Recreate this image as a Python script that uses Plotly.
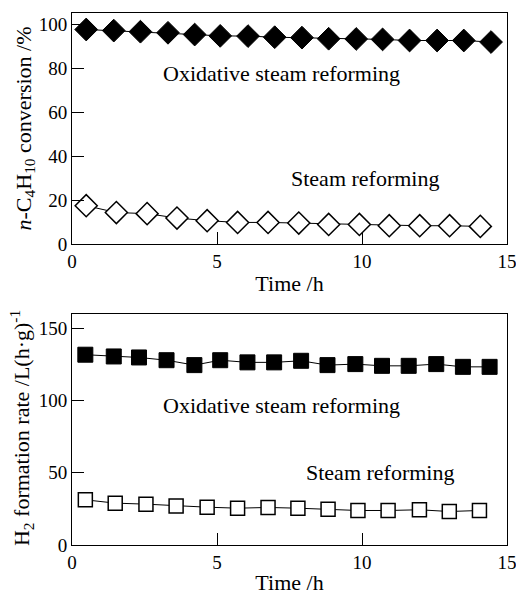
import plotly.graph_objects as go
from plotly.subplots import make_subplots

# Top panel: n-C4H10 conversion (%)
time_osr_conv = [0.49, 1.44, 2.36, 3.31, 4.23, 5.11, 6.07, 6.99, 7.93, 8.85, 9.80, 10.71, 11.64, 12.59, 13.51, 14.45]
conv_osr = [97.5, 97.0, 96.5, 96.0, 95.2, 94.6, 94.5, 94.0, 93.8, 93.3, 93.2, 93.0, 92.5, 92.5, 92.5, 91.8]
time_sr_conv = [0.49, 1.53, 2.59, 3.62, 4.66, 5.71, 6.76, 7.82, 8.85, 9.91, 10.94, 11.99, 13.02, 14.08]
conv_sr = [17.4, 14.3, 13.8, 11.8, 10.6, 9.8, 9.8, 9.5, 8.9, 8.9, 8.3, 8.3, 8.3, 8.0]

# Bottom panel: H2 formation rate (L/(h g))
time_osr_h2 = [0.46, 1.44, 2.31, 3.26, 4.22, 5.11, 6.05, 6.97, 7.90, 8.81, 9.77, 10.69, 11.61, 12.56, 13.48, 14.40]
h2_osr = [131.8, 130.6, 129.9, 128.0, 124.6, 128.0, 126.5, 126.5, 127.6, 124.6, 125.3, 124.1, 124.1, 125.3, 123.4, 123.4]
time_sr_h2 = [0.46, 1.49, 2.55, 3.59, 4.66, 5.71, 6.76, 7.79, 8.83, 9.86, 10.90, 11.98, 13.01, 14.05]
h2_sr = [31.3, 29.0, 28.3, 27.1, 26.2, 25.5, 26.0, 25.5, 24.8, 23.9, 23.9, 24.4, 23.2, 23.9]

x_ticks = [0, 5, 10, 15]
y_ticks_top = [0, 20, 40, 60, 80, 100]
y_ticks_bottom = [0, 50, 100, 150]

FONT = "Liberation Serif"

fig = make_subplots(rows=2, cols=1, vertical_spacing=0.1316)

line = dict(color="black", width=1)

fig.add_trace(go.Scatter(x=time_osr_conv, y=conv_osr, mode="lines+markers", line=line,
                         marker=dict(symbol="diamond", size=17.5, color="black",
                                     line=dict(color="black", width=1))), row=1, col=1)
fig.add_trace(go.Scatter(x=time_sr_conv, y=conv_sr, mode="lines+markers", line=line,
                         marker=dict(symbol="diamond", size=17, color="white",
                                     line=dict(color="black", width=1.5))), row=1, col=1)
fig.add_trace(go.Scatter(x=time_osr_h2, y=h2_osr, mode="lines+markers", line=line,
                         marker=dict(symbol="square", size=15, color="black",
                                     line=dict(color="black", width=1))), row=2, col=1)
fig.add_trace(go.Scatter(x=time_sr_h2, y=h2_sr, mode="lines+markers", line=line,
                         marker=dict(symbol="square", size=14, color="white",
                                     line=dict(color="black", width=1.5))), row=2, col=1)

axis_common = dict(showline=True, linecolor="black", linewidth=1, mirror=True,
                   ticks="inside", ticklen=12, tickcolor="black", tickwidth=1,
                   showgrid=False, zeroline=False, automargin=False,
                   tickfont=dict(family=FONT, size=19, color="black"))

fig.update_xaxes(range=[0, 15], tickvals=x_ticks, ticklabeloverflow="allow", **axis_common)
fig.update_yaxes(range=[0, 105], tickvals=y_ticks_top, row=1, col=1, **axis_common)
fig.update_yaxes(range=[0, 160], tickvals=y_ticks_bottom, row=2, col=1, **axis_common)

title_font = dict(family=FONT, size=22, color="black")
fig.update_xaxes(title=dict(text="Time /h", font=title_font, standoff=4))

annotations = [
    dict(text="Oxidative steam reforming", x=7.22, y=77.7, xref="x", yref="y"),
    dict(text="Steam reforming", x=10.1, y=30, xref="x", yref="y"),
    dict(text="Oxidative steam reforming", x=7.24, y=96.3, xref="x2", yref="y2"),
    dict(text="Steam reforming", x=10.63, y=49.9, xref="x2", yref="y2"),
]
for a in annotations:
    fig.add_annotation(showarrow=False, font=title_font, **a)

fig.add_annotation(text="<i>n</i>-C<sub>4</sub>H<sub>10</sub> conversion /%", xref="paper", yref="paper",
                   x=-0.108, y=0.783, textangle=-90, showarrow=False, font=title_font,
                   xanchor="center", yanchor="middle")
fig.add_annotation(text="H<sub>2</sub> formation rate /L(h·g)<sup>-1</sup>", xref="paper", yref="paper",
                   x=-0.116, y=0.219, textangle=-90, showarrow=False, font=title_font,
                   xanchor="center", yanchor="middle")

fig.update_layout(width=516, height=595, margin=dict(l=72, r=9, t=13, b=50),
                  plot_bgcolor="white", paper_bgcolor="white", showlegend=False,
                  font=dict(family=FONT, color="black"))

fig.write_html("out.html")
